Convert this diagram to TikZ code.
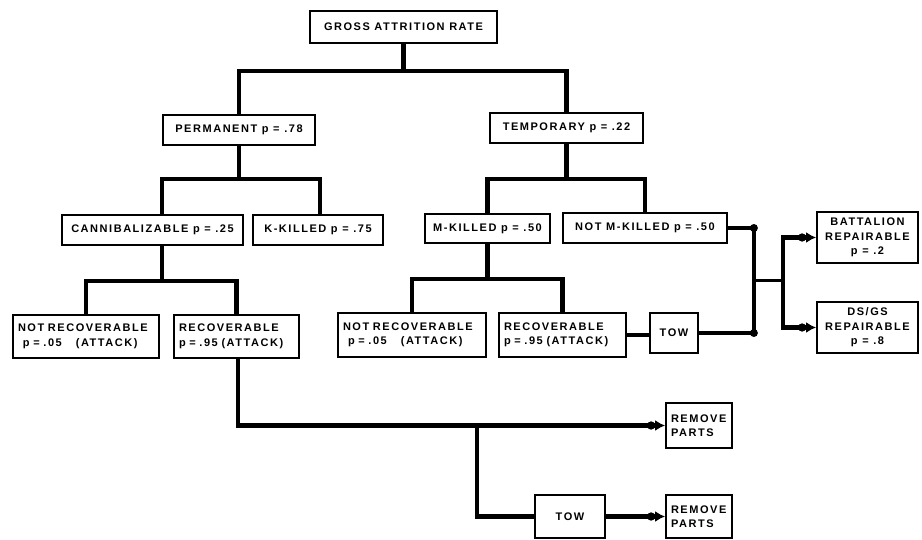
\documentclass[tikz,border=0pt]{standalone}
\usepackage{fontspec}
\setsansfont{Liberation Sans}[LetterSpace=14]
\usetikzlibrary{arrows.meta, positioning, calc}
\tikzset{
    box/.style={draw, line width=1.8pt, font=\sffamily\bfseries\fontsize{11}{14.5}\selectfont, inner sep=2pt}, % every rectangle
    lbox/.style={box, align=left, inner xsep=5pt, text width=#1}, % left aligned text
    tree/.style={line width=4.2pt},
    thinlink/.style={line width=2.4pt},
    link/.style={line width=4.2pt, -{Circle[length=8pt,width=8pt] Latex[length=10pt,width=11pt]}}, % arrow into a box
}

\begin{document}
\begin{tikzpicture}[x=1pt, y=-1pt]
    \useasboundingbox (0,0) rectangle (922,540);
    % Boxes
    \node[box, minimum width=187, minimum height=32] (gross) at (403.5,27) {GROSS ATTRITION RATE};
    \node[box, minimum width=152, minimum height=30] (perm) at (239,130) {PERMANENT p = .78};
    \node[box, minimum width=153, minimum height=30] (temp) at (566.5,128) {TEMPORARY p = .22};
    \node[box, minimum width=181, minimum height=30] (cann) at (152.5,230) {CANNIBALIZABLE p = .25};
    \node[box, minimum width=130, minimum height=30] (kkill) at (318,230) {K-KILLED p = .75};
    \node[box, minimum width=125, minimum height=29] (mkill) at (487.5,228.5) {M-KILLED p = .50};
    \node[box, minimum width=164, minimum height=30] (notmk) at (645,228) {NOT M-KILLED p = .50};
    \node[lbox=136, minimum height=43] (nrec1) at (86,336.5) {NOT RECOVERABLE\\\hspace{5pt}p = .05\hspace{14pt}(ATTACK)};
    \node[lbox=115, minimum height=43] (rec1) at (236.5,336.5) {RECOVERABLE\\p = .95 (ATTACK)};
    \node[lbox=138, minimum height=44] (nrec2) at (412,335) {NOT RECOVERABLE\\\hspace{5pt}p = .05\hspace{14pt}(ATTACK)};
    \node[lbox=117, minimum height=44] (rec2) at (562.5,335) {RECOVERABLE\\p = .95 (ATTACK)};
    \node[box, minimum width=48, minimum height=40] (tow1) at (674,333) {TOW};
    \node[box, minimum width=101, minimum height=51, align=center] (batt) at (867.5,237.5) {BATTALION\\REPAIRABLE\\p = .2};
    \node[box, minimum width=101, minimum height=51, align=center] (dsgs) at (867.5,327.5) {DS/GS\\REPAIRABLE\\p = .8};
    \node[lbox=56, minimum height=45] (rem1) at (699,425.5) {REMOVE\\PARTS};
    \node[box, minimum width=70, minimum height=43] (tow2) at (570,516.5) {TOW};
    \node[lbox=56, minimum height=43] (rem2) at (699,516.5) {REMOVE\\PARTS};

    % Tree
    \draw[tree] (gross.south) -- ++(0,27) coordinate (g);
    \draw[tree] (perm.north) |- (g) -| (temp.north);
    \draw[tree] (perm.south) -- ++(0,33) coordinate (p);
    \draw[tree] ([xshift=9.5]cann.north) |- (p) -| ([xshift=2]kkill.north);
    \draw[tree] ([xshift=9.5]cann.south) -- ++(0,35) coordinate (c);
    \draw[tree] (nrec1.north) |- (c) -| (rec1.north);
    \draw[tree] (temp.south) -- ++(0,35) coordinate (t);
    \draw[tree] (mkill.north) |- (t) -| (notmk.north);
    \draw[tree] (mkill.south) -- ++(0,35) coordinate (m);
    \draw[tree] (nrec2.north) |- (m) -| (rec2.north);

    % Repair
    \draw[tree] (rec2.east) -- (rec2.east -| tow1.west);
    \draw[tree] (notmk.east) -- ++(26,0) coordinate (d1);
    \draw[tree] (tow1.east) -| (d1);
    \fill (d1) circle (4);
    \fill (d1 |- tow1.east) circle (4);
    \draw[thinlink] ($(d1)!0.5!(d1 |- tow1.east)$) -- ++(29,0) coordinate (s);
    \draw[link] (s) |- (batt.west);
    \draw[link] (s) |- (dsgs.west);

    % Parts
    \draw[link] ([xshift=1.5]rec1.south) |- (rem1.west);
    \coordinate (b) at ([xshift=-57]tow2.west |- rem1.west);
    \draw[tree] (tow2.west) -| (b);
    \draw[link] (tow2) -- (rem2);
\end{tikzpicture}
\end{document}
